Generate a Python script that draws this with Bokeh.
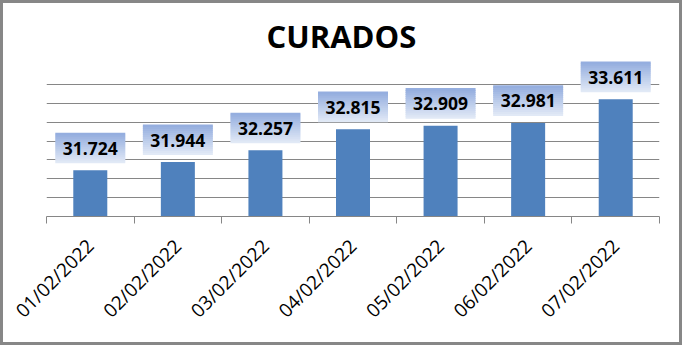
import math
from bokeh.plotting import figure
from bokeh.models import Range1d, FixedTicker, ColumnDataSource
from bokeh.core.properties import value
from bokeh.embed import file_html
from bokeh.resources import INLINE

# ---- data ----
dates = ["01/02/2022", "02/02/2022", "03/02/2022", "04/02/2022",
         "05/02/2022", "06/02/2022", "07/02/2022"]
curados = [31724, 31944, 32257, 32815, 32909, 32981, 33611]
y_start, y_stop, y_step = 30500, 34000, 500

# ---- layout constants ----
FRAME_W, FRAME_H = 613, 160
GRID_PX = 132                     # pixels between y_start and y_stop
du = (y_stop - y_start) / GRID_PX # data units per pixel
y_end = y_start + FRAME_H * du

n = len(dates)
xs = [i + 0.5 for i in range(n)]
px_per_cat = FRAME_W / n

p = figure(frame_width=FRAME_W, frame_height=FRAME_H,
           x_range=Range1d(0, n), y_range=Range1d(y_start, y_end),
           output_backend="svg", toolbar_location=None,
           min_border_left=43, min_border_right=20,
           min_border_top=53, min_border_bottom=126,
           title="CURADOS")
p.styles = {"border": "3px solid #878787"}
p.outline_line_color = None
p.background_fill_color = "white"
p.border_fill_color = "white"

p.title.align = "left"
p.title.offset = 220
p.title.text_font = "Open Sans"
p.title.text_font_style = "bold"
p.title.text_font_size = "31px"
p.title.text_color = "black"
p.title.standoff = 0

# grid
p.xgrid.visible = False
p.ygrid.ticker = FixedTicker(ticks=list(range(y_start, y_stop + 1, y_step)))
p.ygrid.grid_line_color = "#868686"
p.ygrid.grid_line_width = 1
p.yaxis.visible = False

# x axis
p.xaxis.ticker = FixedTicker(ticks=xs, minor_ticks=list(range(n + 1)))
p.xaxis.major_label_overrides = {x: d for x, d in zip(xs, dates)}
p.xaxis.major_label_orientation = math.pi / 4
p.xaxis.major_tick_line_color = None
p.xaxis.minor_tick_line_color = "#868686"
p.xaxis.minor_tick_out = 7
p.xaxis.minor_tick_in = 0
p.xaxis.axis_line_color = "#868686"
p.xaxis.major_label_text_font = "Open Sans"
p.xaxis.major_label_text_font_size = "19px"
p.xaxis.major_label_text_color = "black"
p.xaxis.major_label_standoff = 19

# bars
src = ColumnDataSource(dict(x=xs, top=curados,
                            label=[f"{v:,}".replace(",", ".") for v in curados]))
p.vbar(x="x", top="top", bottom=y_start, width=34 / px_per_cat, source=src,
       fill_color="#4F81BD", line_color=None)

# gradient label boxes
BOX_W, BOX_H, GAP, NS = 70, 30, 7, 15
c_top = (146, 172, 222)
c_bot = (228, 235, 247)
for k in range(NS):
    t = (k + 0.5) / NS  # 0 bottom -> 1 top
    col = tuple(int(round(c_bot[j] + (c_top[j] - c_bot[j]) * t)) for j in range(3))
    hexc = "#%02x%02x%02x" % col
    bots = [v + (GAP + k * BOX_H / NS) * du for v in curados]
    tops = [b + (BOX_H / NS + 0.6) * du for b in bots]
    p.vbar(x=xs, bottom=bots, top=tops, width=BOX_W / px_per_cat,
           fill_color=hexc, line_color=None)

lab_y = [v + (GAP + BOX_H / 2) * du for v in curados]
p.text(x=xs, y=lab_y, text=src.data["label"], text_align="center",
       text_baseline="middle", text_font=value("Open Sans"),
       text_font_style="bold", text_font_size="17.5px", text_color="black")

open("out.html", "w").write(file_html(p, INLINE))
